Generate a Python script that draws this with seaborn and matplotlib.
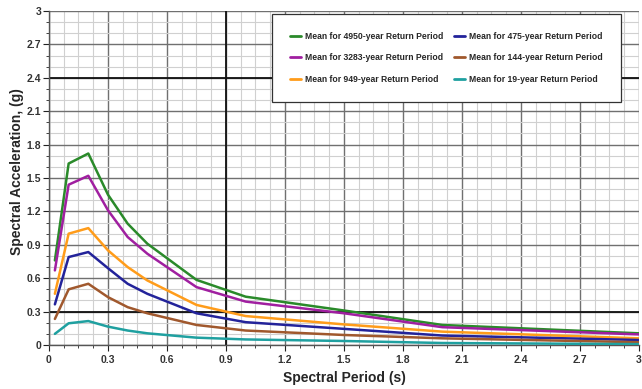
import numpy as np
import pandas as pd
import matplotlib
matplotlib.use("Agg")
import matplotlib.pyplot as plt
import seaborn as sns
from matplotlib.ticker import MultipleLocator, FixedLocator

periods = [0.03, 0.1, 0.2, 0.3, 0.4, 0.5, 0.75, 1.0, 1.5, 2.0, 3.0]
series_names = [
    "Mean for 4950-year Return Period",
    "Mean for 3283-year Return Period",
    "Mean for 949-year Return Period",
    "Mean for 475-year Return Period",
    "Mean for 144-year Return Period",
    "Mean for 19-year Return Period",
]
rp4950 = [0.76, 1.63, 1.72, 1.35, 1.09, 0.91, 0.585, 0.434, 0.31, 0.18, 0.105]
rp3283 = [0.67, 1.44, 1.52, 1.21, 0.97, 0.82, 0.52, 0.39, 0.285, 0.16, 0.095]
rp949 = [0.46, 1.00, 1.05, 0.85, 0.70, 0.58, 0.36, 0.26, 0.185, 0.12, 0.06]
rp475 = [0.365, 0.79, 0.835, 0.69, 0.55, 0.46, 0.285, 0.205, 0.145, 0.085, 0.045]
rp144 = [0.234, 0.50, 0.55, 0.43, 0.34, 0.285, 0.18, 0.13, 0.09, 0.06, 0.025]
rp19 = [0.10, 0.195, 0.215, 0.165, 0.13, 0.105, 0.066, 0.05, 0.036, 0.018, 0.008]
colors = ["#2a8a2a", "#a01fa0", "#ff9c1a", "#23239a", "#a0582d", "#1fa0a0"]

x_ticks = [0, 0.3, 0.6, 0.9, 1.2, 1.5, 1.8, 2.1, 2.4, 2.7, 3.0]
x_labels = ["0", "0.3", "0.6", "0.9", "1.2", "1.5", "1.8", "2.1", "2.4", "2.7", "3"]
y_ticks = [0, 0.3, 0.6, 0.9, 1.2, 1.5, 1.8, 2.1, 2.4, 2.7, 3.0]
y_labels = ["0", "0.3", "0.6", "0.9", "1.2", "1.5", "1.8", "2.1", "2.4", "2.7", "3"]

all_vals = [rp4950, rp3283, rp949, rp475, rp144, rp19]
rows = []
for name, vals in zip(series_names, all_vals):
    for p, v in zip(periods, vals):
        rows.append({"Period": p, "Accel": v, "Series": name})
df = pd.DataFrame(rows)

sns.set_style("white")
plt.rcParams["font.family"] = ["Liberation Sans", "DejaVu Sans"]

fig = plt.figure(figsize=(6.42, 3.89), dpi=100)
ax = fig.add_axes([0.0763, 0.1131, 0.9190, 0.8586])

# grid
ax.set_xlim(0, 3)
ax.set_ylim(0, 3)
ax.xaxis.set_major_locator(FixedLocator(x_ticks))
ax.yaxis.set_major_locator(FixedLocator(y_ticks))
ax.xaxis.set_minor_locator(MultipleLocator(0.075))
ax.yaxis.set_minor_locator(MultipleLocator(0.1))
ax.grid(which="minor", color="#d0d0d0", linewidth=0.8, zorder=0)
ax.grid(which="major", color="#707070", linewidth=1.0, zorder=0)
ax.axvline(0.9, color="#111111", linewidth=1.3, zorder=1)
ax.axhline(0.3, color="#111111", linewidth=1.3, zorder=1)
ax.axhline(2.4, color="#111111", linewidth=1.3, zorder=1)
ax.set_axisbelow(True)

sns.lineplot(data=df, x="Period", y="Accel", hue="Series", hue_order=series_names,
             palette=colors, linewidth=1.8, ax=ax, legend=True, zorder=3)

ax.set_xticklabels(x_labels)
ax.set_yticklabels(y_labels)
ax.tick_params(axis="both", which="major", labelsize=7.5, colors="#222222", length=4,
               direction="out")
ax.tick_params(axis="x", which="major", pad=3.5)
ax.tick_params(axis="y", which="major", pad=1.5)
ax.tick_params(axis="both", which="minor", length=2.5, direction="out", color="#222222")
for lab in ax.get_xticklabels() + ax.get_yticklabels():
    lab.set_fontweight("bold")
    lab.set_color("#333333")
ax.tick_params(left=True, bottom=True, which="both")
ax.set_xlabel("Spectral Period (s)", fontsize=10, fontweight="bold", labelpad=4)
ax.set_ylabel("Spectral Acceleration, (g)", fontsize=10, fontweight="bold")
ax.yaxis.set_label_coords(-0.043, 0.518)
for side in ["top", "right"]:
    ax.spines[side].set_visible(False)
for side in ["left", "bottom"]:
    ax.spines[side].set_color("#555555")
    ax.spines[side].set_linewidth(1.0)

leg = ax.legend(title=None, ncol=2, loc="upper left",
                bbox_to_anchor=(0.378, 0.991),
                prop={"size": 6.25, "weight": "bold"}, frameon=True, fancybox=False,
                handlelength=1.2, handletextpad=0.45, borderpad=2.1,
                labelspacing=1.4, columnspacing=1.3, borderaxespad=0)
leg.get_frame().set_edgecolor("#333333")
leg.get_frame().set_linewidth(0.9)
leg.get_frame().set_alpha(1.0)
leg.set_zorder(5)
for line in leg.get_lines():
    line.set_linewidth(2.0)

fig.savefig("out.png", dpi=100)
